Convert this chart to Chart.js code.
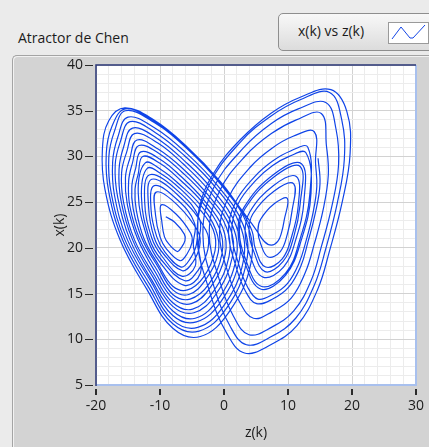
<!DOCTYPE html>
<html>
<head>
<meta charset="utf-8">
<script src="https://cdn.jsdelivr.net/npm/chart.js@4/dist/chart.umd.min.js"></script>
<style>
  html, body { margin: 0; padding: 0; }
  body { width: 429px; height: 447px; overflow: hidden; position: relative; background: #ebebeb; font-family: "Open Sans", sans-serif; }
  #panel { position: absolute; left: 12px; top: 55px; width: 430px; height: 400px; background: #d3d3d3;
           border-left: 1px solid #a4a4a4; border-top: 1px solid #a4a4a4; border-top-left-radius: 5px;
           box-shadow: inset 1px 1px 0 #f2f2f2; }
  #title { position: absolute; left: 18px; top: 28px; font-size: 14px; color: #1b1b1b; white-space: nowrap; }
  #legend { position: absolute; left: 278px; top: 13px; width: 160px; height: 36px; border: 1px solid #8e8e8e; border-radius: 5px;
            background: linear-gradient(#f8f8f8, #dcdcdc); }
  #legend span { position: absolute; left: 19px; top: 7px; font-size: 14px; color: #1b1b1b; white-space: nowrap; }
  #legend svg { position: absolute; left: 109px; top: 8px; }
  canvas { position: absolute; left: 0; top: 0; }
</style>
</head>
<body>
<div id="panel"></div>
<div id="title">Atractor de Chen</div>
<div id="legend"><span>x(k) vs z(k)</span>
  <svg width="41" height="22" viewBox="0 0 41 22"><rect x="0.5" y="0.5" width="40" height="21" fill="#fff" stroke="#9a9a9a"/>
  <polyline points="4,17 13,5 22,16 25,16 37,3" fill="none" stroke="#1446e6" stroke-width="1"/></svg>
</div>
<canvas id="c" width="429" height="447"></canvas>
<script>
// Trajectory of the Chen attractor, drawn as x(k) against z(k).
// Each wing visit is a list of [z, x] pairs in the order the orbit runs.
const leftVisitA = [
  [-9.1,23.4],[-7.7,22.8],[-6.2,21.5],[-6.1,20.8],[-6.7,20.0],[-7.3,19.6],[-8.6,20.4],[-9.3,21.2],[-9.7,22.8],
  [-9.8,24.7],[-7.5,23.7],[-5.2,21.6],[-5.0,20.6],[-5.8,19.3],[-6.9,18.6],[-9.0,19.9],[-10.0,21.2],[-10.7,23.6],
  [-10.6,26.1],[-7.3,24.7],[-4.0,21.7],[-3.8,20.2],[-4.9,18.4],[-6.5,17.5],[-9.4,19.3],[-10.9,21.1],[-11.8,24.6],
  [-11.3,27.5],[-7.1,25.7],[-2.8,21.9],[-2.5,19.9],[-4.0,17.6],[-6.1,16.4],[-9.8,18.7],[-11.7,21.1],[-12.9,25.6],
  [-12.0,28.7],[-9.6,28.0],[-6.9,26.5],[-4.0,24.4],[-1.7,22.0],[-1.4,19.7],[-3.2,16.8],[-5.7,15.4],[-8.0,15.8],[-10.2,18.1],[-12.5,21.0],[-13.7,24.1],[-13.9,26.4],[-13.4,28.1],
  [-12.7,30.0],[-9.9,29.2],[-6.8,27.4],[-3.4,25.0],[-0.7,22.1],[-0.3,19.4],[-2.4,16.0],[-5.3,14.4],[-8.0,14.9],[-10.5,17.6],[-13.2,21.0],[-14.7,24.5],[-14.9,27.3],[-14.3,29.3],
  [-13.3,31.2],[-10.1,30.3],[-6.6,28.3],[-2.7,25.5],[0.4,22.2],[0.8,19.1],[-1.6,15.3],[-4.9,13.3],[-8.0,14.0],[-10.9,17.0],[-14.0,20.9],[-15.7,25.0],[-16.0,28.2],[-15.2,30.5],
  [-14.0,32.5],[-10.4,31.5],[-6.4,29.2],[-2.0,26.0],[1.4,22.3],[1.9,18.8],[-0.8,14.5],[-4.5,12.3],[-8.0,13.1],[-11.3,16.5],[-14.7,20.9],[-16.6,25.5],[-17.0,29.1],[-16.2,31.6],
  [-14.7,33.8],[-10.7,32.6],[-6.2,30.1],[-1.3,26.6],[2.5,22.5],[3.0,18.5],[0.0,13.7],[-4.1,11.3],[-8.0,12.1],[-11.6,16.0],[-15.5,20.9],[-17.6,25.9],[-18.0,29.9],[-17.1,32.8],
  [-15.4,35.0],[-10.9,33.7],[-6.0,31.0],[-0.7,27.1],[3.6,22.6],[4.2,18.3],[0.8,13.0],[-3.7,10.3],[-8.0,11.2],[-12.0,15.4],[-16.2,20.8],[-18.6,26.4],[-19.0,30.8],[-18.0,33.9],
  [-15.5,35.3],[-11.0,34.0],[-6.0,31.2],[-0.5,27.2],[2.8,24.0],[4.4,21.8]
];
const rightVisitB = [
  [4.9,19.9],[6.5,17.9],[9.1,18.8],[10.6,21.3],[11.6,24.6],
  [11.3,27.8],[7.7,26.8],[4.0,23.9],[3.3,21.8],[4.0,19.3],[6.1,16.8],[9.3,17.9],[11.3,21.1],[12.5,25.2],
  [12.1,29.2],[7.7,28.0],[3.1,24.4],[2.2,21.8],[3.1,18.7],[5.7,15.5],[9.6,17.0],[12.1,20.9],[13.6,26.0],
  [12.8,30.4],[10.2,30.0],[7.6,29.0],[5.0,27.4],[2.2,24.8],[1.2,21.7],[2.3,18.2],[3.7,15.7],[5.3,14.4],[7.6,14.9],[9.9,16.1],[11.7,18.3],[12.8,20.7],[13.9,23.8],[14.5,26.7],[14.3,29.3],
  [14.1,32.7],[10.8,32.2],[7.5,30.9],[4.2,28.9],[0.7,25.5],[-0.7,21.7],[0.7,17.1],[2.5,14.0],[4.6,12.3],[7.5,13.0],[10.5,14.5],[12.7,17.3],[14.1,20.4],[15.5,24.2],[16.3,28.0],[16.0,31.2],
  [15.2,34.7],[11.3,34.0],[7.4,32.5],[3.4,30.1],[-0.7,26.2],[-2.3,21.6],[-0.6,16.2],[1.5,12.5],[3.9,10.5],[7.4,11.3],[10.9,13.1],[13.6,16.4],[15.2,20.1],[16.9,24.7],[17.9,29.1],[17.5,33.0],
  [15.9,35.9],[11.6,35.2],[7.4,33.6],[3.0,30.9],[-1.6,26.6],[-3.3,21.5],[-1.5,15.6],[0.9,11.5],[3.5,9.4],[7.4,10.3],[11.2,12.3],[14.1,15.9],[15.9,19.9],[17.7,24.9],[18.8,29.7],[18.4,34.0],
  [16.5,37.0],[11.9,36.2],[7.3,34.4],[2.6,31.6],[-2.3,26.9],[-4.2,21.5],[-2.2,15.1],[0.4,10.7],[3.2,8.5],[7.3,9.4],[11.4,11.5],[14.6,15.4],[16.5,19.7],[18.5,25.1],[19.7,30.3],[19.2,34.9],
  [16.7,37.3],[12.0,36.5],[7.3,34.7],[2.5,31.8],[-1.5,28.3],[-3.8,24.6]
];
const leftVisitC = [
  [-4.3,20.4],[-5.3,18.8],[-6.7,17.9],[-9.2,19.5],[-10.5,21.2],[-11.4,24.2],
  [-10.9,26.8],[-7.2,25.2],[-4.6,22.7],[-4.8,20.4],[-4.5,18.0],[-6.6,16.9],[-9.6,19.0],[-11.3,21.1],[-12.4,25.1],
  [-11.6,28.0],[-7.0,26.1],[-3.8,23.1],[-4.0,20.2],[-3.7,17.2],[-6.2,15.9],[-10.0,18.4],[-12.0,21.1],[-13.4,26.0],
  [-12.3,29.3],[-9.7,28.5],[-6.9,26.9],[-3.7,24.7],[-1.3,22.0],[-0.9,19.5],[-2.9,16.5],[-5.5,14.9],[-8.0,15.4],[-10.3,17.9],[-12.8,21.0],[-14.2,24.3],[-14.4,26.8],[-13.8,28.7],
  [-13.0,30.5],[-10.0,29.7],[-6.7,27.8],[-3.1,25.2],[-0.2,22.2],[0.2,19.3],[-2.1,15.7],[-5.1,13.9],[-8.0,14.5],[-10.7,17.3],[-13.5,21.0],[-15.1,24.7],[-15.4,27.7],[-14.7,29.8],
  [-13.6,31.8],[-10.3,30.8],[-6.5,28.7],[-2.4,25.7],[0.9,22.3],[1.3,19.0],[-1.3,14.9],[-4.7,12.9],[-8.0,13.6],[-11.1,16.8],[-14.3,20.9],[-16.1,25.2],[-16.4,28.6],[-15.7,31.0],
  [-14.3,33.1],[-10.5,32.0],[-6.3,29.6],[-1.7,26.3],[1.9,22.4],[2.4,18.7],[-0.4,14.2],[-4.3,11.9],[-8.0,12.6],[-11.4,16.3],[-15.1,20.9],[-17.1,25.7],[-17.4,29.4],[-16.6,32.1],
  [-15.0,34.3],[-10.8,33.1],[-6.1,30.5],[-1.0,26.8],[3.0,22.5],[3.5,18.4],[0.4,13.4],[-3.9,10.9],[-8.0,11.7],[-11.8,15.7],[-15.8,20.8],[-18.0,26.1],[-18.4,30.3],[-17.5,33.3],
  [-15.4,35.2],[-11.0,33.9],[-6.0,31.1],[-0.6,27.1],[2.6,24.3],[5.0,22.0],[6.3,20.7]
];
const rightVisitD = [
  [7.4,20.3],[8.4,20.7],[9.0,21.7],[9.4,23.0],
  [9.9,25.4],[7.8,24.8],[5.7,23.1],[5.3,21.9],[5.7,20.5],[6.9,19.0],[8.8,19.6],[9.9,21.5],[10.6,23.9],
  [10.9,27.0],[7.8,26.2],[4.5,23.7],[3.9,21.8],[4.6,19.7],[6.4,17.4],[9.2,18.5],[10.9,21.2],[11.9,24.8],
  [11.9,28.9],[7.7,27.7],[3.3,24.3],[2.4,21.8],[3.3,18.9],[5.8,15.8],[9.6,17.2],[11.9,21.0],[13.4,25.8],
  [13.1,31.0],[10.4,30.6],[7.6,29.5],[4.8,27.8],[1.8,25.0],[0.7,21.7],[1.9,17.9],[3.4,15.2],[5.1,13.9],[7.6,14.4],[10.1,15.7],[12.0,18.0],[13.1,20.6],[14.3,23.9],[15.0,27.0],[14.7,29.8]
];

const zTicks = [-20, -10, 0, 10, 20, 30];
const xTicks = [5, 10, 15, 20, 25, 30, 35, 40];

const trajectory = [...leftVisitA, ...rightVisitB, ...leftVisitC, ...rightVisitD]
  .map(([z, x]) => ({ x: z, y: x }));

const FONT = '"Open Sans", sans-serif';
const MAJOR = '#d2d2d2', MINOR = '#ececec';

// White plot area, its border, and the outside tick marks.
const frame = {
  id: 'frame',
  beforeDraw(chart) {
    const { ctx, chartArea: a } = chart;
    ctx.save();
    ctx.fillStyle = '#ffffff';
    ctx.fillRect(a.left, a.top, a.right - a.left, a.bottom - a.top);
    ctx.restore();
  },
  afterDraw(chart) {
    const { ctx, chartArea: a, scales } = chart;
    ctx.save();
    ctx.lineWidth = 2;
    ctx.strokeStyle = '#a8c0ee';
    ctx.beginPath();
    ctx.moveTo(a.right, a.top); ctx.lineTo(a.right, a.bottom); ctx.lineTo(a.left, a.bottom);
    ctx.stroke();
    ctx.strokeStyle = '#2a3676';
    ctx.lineWidth = 1.5;
    ctx.beginPath();
    ctx.moveTo(a.left, a.bottom + 1); ctx.lineTo(a.left, a.top); ctx.lineTo(a.right, a.top);
    ctx.stroke();
    ctx.strokeStyle = '#2b2b2b';
    ctx.lineWidth = 2;
    zTicks.forEach(v => {
      const px = Math.round(scales.x.getPixelForValue(v));
      ctx.beginPath(); ctx.moveTo(px, a.bottom + 4); ctx.lineTo(px, a.bottom + 10); ctx.stroke();
    });
    ctx.lineWidth = 1;
    xTicks.forEach(v => {
      const py = Math.round(scales.y.getPixelForValue(v)) + 0.5;
      ctx.beginPath(); ctx.moveTo(a.left - 11, py); ctx.lineTo(a.left - 3, py); ctx.stroke();
    });
    ctx.restore();
  }
};

new Chart(document.getElementById('c'), {
  type: 'scatter',
  data: {
    datasets: [{
      label: 'x(k) vs z(k)',
      data: trajectory,
      showLine: true,
      borderColor: '#0f44e8',
      borderWidth: 1.2,
      pointRadius: 0,
      tension: 0.4,
      fill: false
    }]
  },
  options: {
    responsive: false,
    animation: false,
    devicePixelRatio: 1,
    layout: { padding: { top: 65, right: 13, left: 0, bottom: 0 } },
    plugins: { legend: { display: false }, tooltip: { enabled: false } },
    scales: {
      x: {
        type: 'linear', min: -20, max: 30,
        ticks: {
          stepSize: 2, autoSkip: false, maxRotation: 0, padding: 13,
          color: '#1b1b1b', font: { family: FONT, size: 14 },
          callback: v => (zTicks.includes(v) ? String(v) : '')
        },
        grid: { drawTicks: false, color: c => (zTicks.includes(c.tick.value) ? MAJOR : MINOR) },
        border: { display: false },
        title: { display: true, text: 'z(k)', color: '#1b1b1b', font: { family: FONT, size: 14 }, padding: { top: 0, bottom: 6 } },
        afterFit: s => { s.height = 62; s.paddingLeft = 0; s.paddingRight = 0; }
      },
      y: {
        type: 'linear', min: 5, max: 40,
        ticks: {
          stepSize: 1, autoSkip: false, padding: 13,
          color: '#1b1b1b', font: { family: FONT, size: 14 },
          callback: v => (xTicks.includes(v) ? String(v) : '')
        },
        grid: { drawTicks: false, color: c => (xTicks.includes(c.tick.value) ? MAJOR : MINOR) },
        border: { display: false },
        title: { display: true, text: 'x(k)', color: '#1b1b1b', font: { family: FONT, size: 14 }, padding: { top: 52, bottom: 0 } },
        afterFit: s => { s.width = 96; s.paddingTop = 0; s.paddingBottom = 0; }
      }
    }
  },
  plugins: [frame]
});
</script>
</body>
</html>
